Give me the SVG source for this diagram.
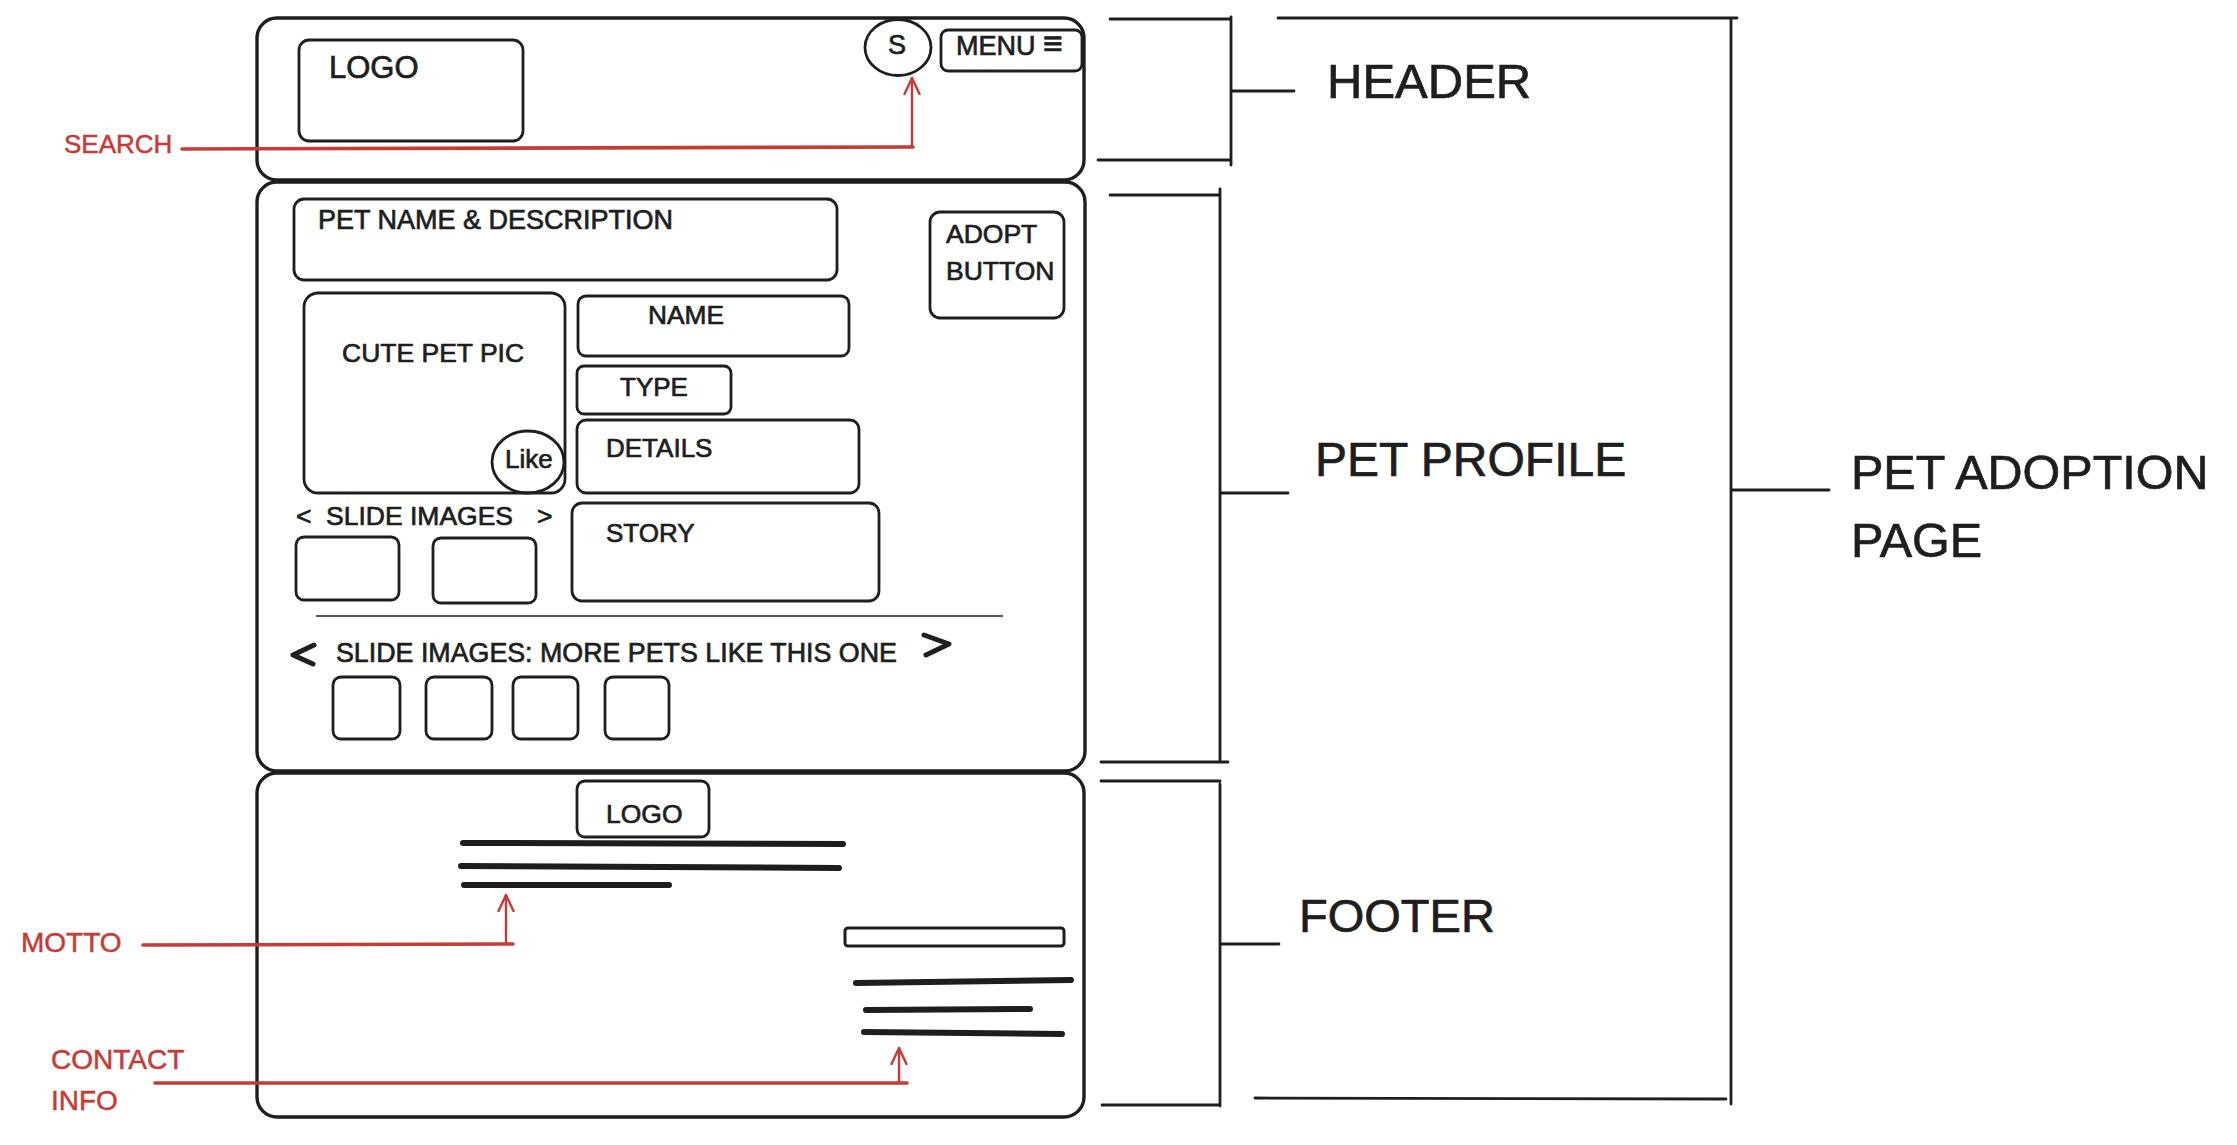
<svg xmlns="http://www.w3.org/2000/svg" width="2237" height="1145" viewBox="0 0 2237 1145">
  <defs>
    <style>
      .box { fill: none; stroke: #1e1e1e; stroke-width: 2.8; }
      .frame { fill: none; stroke: #1e1e1e; stroke-width: 3.4; }
      .txt { font-family: "Liberation Sans", Arial, sans-serif; fill: #1e1e1e; stroke: #1e1e1e; stroke-width: 0.7; }
      .note { font-family: "Liberation Sans", Arial, sans-serif; fill: #c53b35; stroke: #c53b35; stroke-width: 0.5; }
      .bar { stroke: #1e1e1e; stroke-width: 6; stroke-linecap: round; fill: none; }
      .bracket { stroke: #1e1e1e; stroke-width: 2.8; fill: none; stroke-linecap: round; }
      .pointer { stroke: #c53b35; fill: none; stroke-linecap: round; }
      .chev { stroke: #1e1e1e; stroke-width: 5; fill: none; stroke-linecap: round; stroke-linejoin: round; }
    </style>
    <marker id="open-head" viewBox="0 0 18 18" refX="17" refY="9" markerWidth="18" markerHeight="18" markerUnits="userSpaceOnUse" orient="auto">
      <path d="M1 1.5 L17 9 L1 16.5" fill="none" stroke="#c53b35" stroke-width="2.4" stroke-linecap="round" stroke-linejoin="round"/>
    </marker>
  </defs>

  <rect width="2237" height="1145" fill="#ffffff"/>

  <!-- Header section -->
  <g id="header">
    <rect class="frame" x="257" y="18" width="827" height="162" rx="20"/>
    <g id="header-logo">
      <rect class="box" x="299" y="40" width="224" height="101" rx="10"/>
      <text class="txt" x="329" y="78" font-size="31">LOGO</text>
    </g>
    <g id="search-button">
      <ellipse class="box" cx="898" cy="47.5" rx="33" ry="28"/>
      <text class="txt" x="897" y="54" font-size="27" text-anchor="middle">S</text>
    </g>
    <g id="menu-button">
      <rect class="box" x="941" y="30" width="141" height="41" rx="7"/>
      <text class="txt" x="956" y="55" font-size="27">MENU <tspan font-size="34">≡</tspan></text>
    </g>
  </g>

  <!-- Pet profile section -->
  <g id="pet-profile">
    <rect class="frame" x="257" y="182" width="828" height="589" rx="20"/>
    <g id="pet-name-description">
      <rect class="box" x="294" y="199" width="543" height="81" rx="10"/>
      <text class="txt" x="318" y="229" font-size="27">PET NAME &amp; DESCRIPTION</text>
    </g>
    <g id="adopt-button">
      <rect class="box" x="930" y="212" width="134" height="106" rx="10"/>
      <text class="txt" x="946" y="243" font-size="26.5">ADOPT</text>
      <text class="txt" x="946" y="280" font-size="26.5">BUTTON</text>
    </g>
    <g id="pet-pic">
      <rect class="box" x="304" y="293" width="261" height="200" rx="14"/>
      <text class="txt" x="342" y="362" font-size="26.5">CUTE PET PIC</text>
    </g>
    <g id="like-button">
      <ellipse class="box" cx="528" cy="462" rx="36" ry="31" fill="#ffffff"/>
      <text class="txt" x="505" y="468" font-size="26">Like</text>
    </g>
    <g id="name-field">
      <rect class="box" x="578" y="296" width="271" height="60" rx="8"/>
      <text class="txt" x="648" y="324" font-size="26.3">NAME</text>
    </g>
    <g id="type-field">
      <rect class="box" x="577" y="366" width="154" height="48" rx="7"/>
      <text class="txt" x="620" y="396" font-size="26">TYPE</text>
    </g>
    <g id="details-field">
      <rect class="box" x="577" y="420" width="282" height="73" rx="9"/>
      <text class="txt" x="606" y="457" font-size="26">DETAILS</text>
    </g>
    <g id="story-field">
      <rect class="box" x="572" y="503" width="307" height="98" rx="10"/>
      <text class="txt" x="606" y="542" font-size="26">STORY</text>
    </g>
    <g id="pet-slider">
      <text class="txt" x="296" y="525" font-size="26.5">&lt;</text>
      <text class="txt" x="326" y="525" font-size="26.5">SLIDE IMAGES</text>
      <text class="txt" x="537" y="525" font-size="26.5">&gt;</text>
      <rect class="box" x="296" y="537" width="103" height="63" rx="8"/>
      <rect class="box" x="433" y="538" width="103" height="65" rx="8"/>
    </g>
    <line x1="316" y1="616" x2="1003" y2="616" stroke="#1e1e1e" stroke-width="1.6"/>
    <g id="similar-pets">
      <polyline class="chev" points="314,645 293,655 313,664"/>
      <text class="txt" x="336" y="662" font-size="26.8">SLIDE IMAGES: MORE PETS LIKE THIS ONE</text>
      <polyline class="chev" points="924,635 949,644 926,655"/>
      <rect class="box" x="333" y="677" width="67" height="62" rx="8"/>
      <rect class="box" x="426" y="677" width="66" height="62" rx="8"/>
      <rect class="box" x="513" y="677" width="65" height="62" rx="8"/>
      <rect class="box" x="605" y="677" width="64" height="62" rx="8"/>
    </g>
  </g>

  <!-- Footer section -->
  <g id="footer">
    <rect class="frame" x="257" y="773" width="827" height="344" rx="20"/>
    <g id="footer-logo">
      <rect class="box" x="577" y="781" width="132" height="56" rx="8"/>
      <text class="txt" x="606" y="823" font-size="26.5">LOGO</text>
    </g>
    <g id="motto">
      <line class="bar" x1="463" y1="843" x2="843" y2="844"/>
      <line class="bar" x1="461" y1="866" x2="839" y2="868"/>
      <line class="bar" x1="464" y1="885" x2="669" y2="885"/>
    </g>
    <g id="contact-info">
      <rect x="845" y="928" width="219" height="18" rx="3" fill="none" stroke="#1e1e1e" stroke-width="3"/>
      <line class="bar" x1="856" y1="983" x2="1071" y2="980"/>
      <line class="bar" x1="866" y1="1010" x2="1030" y2="1009"/>
      <line class="bar" x1="864" y1="1032" x2="1062" y2="1034"/>
    </g>
  </g>

  <!-- Annotation labels -->
  <g id="label-search"><text class="note" x="64" y="153" font-size="26">SEARCH</text></g>
  <g id="label-motto"><text class="note" x="21" y="952" font-size="28">MOTTO</text></g>
  <g id="label-contact">
    <text class="note" x="51" y="1069" font-size="28">CONTACT</text>
    <text class="note" x="51" y="1110" font-size="28">INFO</text>
  </g>
  <g id="label-header"><text class="txt" x="1327" y="98" font-size="49">HEADER</text></g>
  <g id="label-pet-profile"><text class="txt" x="1315" y="476" font-size="48">PET PROFILE</text></g>
  <g id="label-footer"><text class="txt" x="1299" y="932" font-size="47">FOOTER</text></g>
  <g id="label-page">
    <text class="txt" x="1851" y="489" font-size="48.5">PET ADOPTION</text>
    <text class="txt" x="1851" y="557" font-size="48.5">PAGE</text>
  </g>

  <!-- Connectors: pointers and brackets -->
  <g id="connectors">
    <path class="pointer" stroke-width="3.6" d="M182 149 L913 147"/>
    <path class="pointer" stroke-width="2.4" d="M912 147 L912 78" marker-end="url(#open-head)"/>
    <path class="pointer" stroke-width="3.6" d="M143 945 L513 944"/>
    <path class="pointer" stroke-width="2.4" d="M506 944 L506 895" marker-end="url(#open-head)"/>
    <path class="pointer" stroke-width="3.6" d="M155 1083 L907 1083"/>
    <path class="pointer" stroke-width="2.4" d="M899 1083 L899 1048" marker-end="url(#open-head)"/>

    <path class="bracket" d="M1110 19 L1231 19 M1231 17 L1231 165 M1098 160 L1231 160 M1231 91 L1294 91"/>
    <path class="bracket" d="M1110 195 L1220 195 M1220 189 L1220 762 M1101 762 L1228 762 M1220 493 L1288 493"/>
    <path class="bracket" d="M1101 781 L1220 781 M1220 784 L1220 1106 M1102 1105 L1220 1105 M1220 944 L1279 944"/>
    <path class="bracket" d="M1278 18 L1737 18 M1731 19 L1731 1104 M1255 1098 L1726 1099 M1731 490 L1829 490"/>
  </g>
</svg>
